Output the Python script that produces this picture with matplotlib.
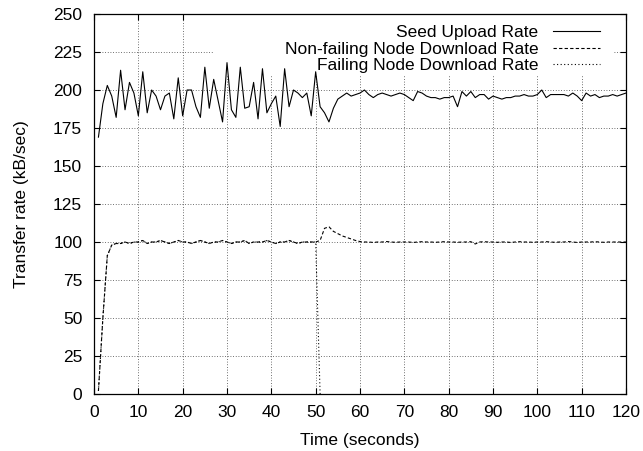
import numpy as np
import matplotlib
matplotlib.use("Agg")
import matplotlib.pyplot as plt
from matplotlib.patches import Rectangle

# seed upload rate, one sample per second (kB/sec)
seed_t = list(range(1, 121))
seed_rate = [
    169, 191, 203, 196, 182, 213, 187, 205, 198, 183,
    212, 185, 200, 196, 187, 196, 198, 181, 208, 183,
    200, 200, 189, 182, 215, 188, 207, 193, 179, 218,
    187, 182, 215, 188, 189, 205, 181, 214, 185, 191,
    196, 176, 214, 189, 200, 198, 195, 198, 183, 212,
    189, 185, 179, 188, 194, 196, 198, 196, 197, 198,
    200, 197, 195, 197, 198, 197, 196, 197, 198, 197,
    195, 193, 199, 198, 196, 195, 195, 194, 195, 195,
    196, 189, 199, 196, 199, 195, 197, 197, 194, 196,
    195, 194, 195, 195, 196, 196, 197, 196, 196, 197,
    200, 195, 197, 197, 197, 197, 196, 198, 196, 193,
    198, 196, 197, 195, 196, 196, 197, 196, 197, 198,
]

# download rate seen by the node that keeps running
down_t = list(range(1, 121))
down_rate = [
    2, 50, 91, 98, 99, 99, 100, 99, 100, 100,
    101, 99, 100, 100, 101, 100, 99, 100, 101, 100,
    100, 99, 100, 101, 100, 99, 100, 100, 101, 100,
    99, 100, 100, 101, 99, 100, 100, 100, 101, 100,
    99, 100, 100, 101, 100, 99, 100, 100, 100, 100,
    101, 109, 110, 107, 105.5, 104, 103, 102, 101, 100.3,
    100, 100, 99.7, 100, 100, 100.3, 100, 99.8, 100, 100,
    100, 99.7, 100, 100.2, 100, 100, 99.8, 100, 100.2, 100,
    100, 99.8, 100, 100, 100.2, 98.7, 100, 100.2, 100, 100,
    99.8, 100, 100, 99.7, 100, 100.2, 100, 100, 99.8, 100,
    100, 100.2, 100, 99.8, 100, 100, 100.3, 100, 99.7, 100,
    100, 100, 100.2, 100, 99.8, 100, 100, 100, 100, 100,
]

# the failing node follows the same curve until it dies at ~50 s
fail_t = list(range(1, 51)) + [51]
fail_rate = down_rate[:50] + [0]

plt.rcParams['font.family'] = ['Liberation Sans', 'DejaVu Sans']

fig = plt.figure(figsize=(6.43, 4.51), dpi=100)
ax = fig.add_axes([94 / 643, 57 / 451, 532 / 643, 380 / 451])

ax.plot(seed_t, seed_rate, color='black', lw=0.8, label='Seed Upload Rate', zorder=3)
ax.plot(down_t, down_rate, color='black', lw=0.8, dashes=(3.0, 2.0),
        label='Non-failing Node Download Rate', zorder=3)
ax.plot(fail_t, fail_rate, color='black', lw=0.8, dashes=(1.0, 2.2),
        label='Failing Node Download Rate', zorder=3)

ax.set_xlim(0, 120)
ax.set_ylim(0, 250)
ax.set_xticks(np.arange(0, 121, 10))
ax.set_yticks(np.arange(0, 251, 25))
ax.tick_params(direction='in', length=4.5, width=0.8, top=True, right=True,
               labelsize=12.5, pad=8)
ax.tick_params(axis='y', pad=8.5)
ax.set_axisbelow(True)
ax.grid(True, color='0.25', lw=0.6, linestyle=(0, (1, 2.2)))
for s in ax.spines.values():
    s.set_linewidth(0.9)

# gnuplot leaves the key area clear of grid lines
ax.add_patch(Rectangle(((213 - 94) / 532, (394 - 75) / 380), 400 / 532, 61 / 380,
                       transform=ax.transAxes, facecolor='white', edgecolor='none',
                       zorder=1))

leg = ax.legend(loc='upper right', bbox_to_anchor=((600 - 94) / 532, (394 - 25) / 380),
                frameon=False, markerfirst=False, fontsize=12.5, borderaxespad=0,
                borderpad=0, handlelength=2.7, handletextpad=0.85, labelspacing=0.08)
leg.set_zorder(4)

ax.set_xlabel('Time (seconds)', fontsize=12.5, labelpad=9)
ax.set_ylabel('Transfer rate (kB/sec)', fontsize=12.5, labelpad=17)

fig.savefig('out.png', dpi=100)
